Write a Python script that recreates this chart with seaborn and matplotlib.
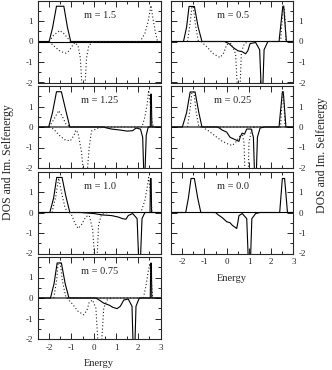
import matplotlib
matplotlib.use("Agg")
import matplotlib.pyplot as plt
import seaborn as sns
import pandas as pd
from matplotlib.ticker import MultipleLocator

sns.set_style("ticks")
plt.rcParams["font.family"] = ["Liberation Serif", "DejaVu Serif"]
plt.rcParams["axes.unicode_minus"] = False

# panel labels
m_values = ["1.5", "1.25", "1.0", "0.75", "0.5", "0.25", "0.0"]

# solid: DOS (positive part), as (energy, value) pairs
m150_dos = [(-2.5, 0), (-2.0, 0), (-1.85, 0.65), (-1.67, 1.72), (-1.34, 1.72), (-1.18, 0.7), (-1.03, 0), (3.0, 0)]
m125_dos = [(-2.5, 0), (-2.02, 0), (-1.85, 0.7), (-1.67, 1.72), (-1.45, 1.72), (-1.25, 0.8), (-1.07, 0),
            (2.54, 0), (2.56, 1.6), (2.59, 1.6), (2.61, 0), (3.0, 0)]
m100_dos = [(-2.5, 0), (-1.97, 0), (-1.8, 0.7), (-1.66, 1.71), (-1.42, 1.71), (-1.25, 0.8), (-1.07, 0),
            (2.53, 0), (2.55, 1.66), (2.58, 1.66), (2.6, 0), (3.0, 0)]
m075_dos = [(-2.5, 0), (-1.94, 0), (-1.78, 0.7), (-1.64, 1.71), (-1.45, 1.71), (-1.28, 0.7), (-1.11, 0),
            (2.54, 0), (2.56, 1.7), (2.59, 1.7), (2.61, 0), (3.0, 0)]
m050_dos = [(-2.5, 0), (-1.94, 0), (-1.8, 0.7), (-1.69, 1.71), (-1.45, 1.71), (-1.28, 0.7), (-1.11, 0),
            (2.35, 0), (2.52, 1.72), (2.56, 1.72), (2.68, 0), (3.0, 0)]
m025_dos = [(-2.5, 0), (-1.99, 0), (-1.8, 0.7), (-1.64, 1.71), (-1.42, 1.71), (-1.25, 0.7), (-1.11, 0),
            (2.35, 0), (2.5, 1.72), (2.54, 1.72), (2.66, 0), (3.0, 0)]
m000_dos = [(-2.5, 0), (-1.84, 0), (-1.72, 0.7), (-1.6, 1.66), (-1.45, 1.66), (-1.3, 0.7), (-1.16, 0),
            (2.38, 0), (2.5, 1.66), (2.6, 1.66), (2.73, 0), (3.0, 0)]

# solid: Im. selfenergy (negative part)
m150_sig = [(-2.5, 0), (3.0, 0)]
m125_sig = [(-2.5, 0), (0.4, 0), (0.8, -0.1), (1.2, -0.15), (1.5, -0.2), (1.75, -0.18), (1.9, -0.05),
            (2.1, -0.1), (2.2, -0.5), (2.25, -2.3), (2.3, -2.3), (2.36, -0.4), (2.45, 0), (3.0, 0)]
m100_sig = [(-2.5, 0), (-0.6, 0), (0.0, -0.05), (0.4, -0.12), (0.8, -0.15), (1.1, -0.22), (1.3, -0.3),
            (1.45, -0.33), (1.55, -0.15), (1.75, -0.05), (1.95, -0.3), (2.02, -2.3), (2.1, -2.3),
            (2.17, -0.3), (2.3, 0), (3.0, 0)]
m075_sig = [(-2.5, 0), (0.1, 0), (0.25, -0.1), (0.45, -0.25), (0.7, -0.35), (0.85, -0.45), (1.05, -0.52),
            (1.2, -0.4), (1.35, -0.1), (1.55, -0.05), (1.72, -0.4), (1.77, -2.3), (1.85, -2.3),
            (1.9, -0.4), (2.05, 0), (3.0, 0)]
m050_sig = [(-2.5, 0), (-0.1, 0), (0.1, -0.1), (0.3, -0.3), (0.5, -0.45), (0.7, -0.5), (0.85, -0.6),
            (0.95, -0.45), (1.05, -0.1), (1.3, -0.05), (1.48, -0.4), (1.55, -2.3), (1.62, -2.3),
            (1.68, -0.4), (1.85, 0), (3.0, 0)]
m025_sig = [(-2.5, 0), (-0.4, 0), (-0.2, -0.15), (0.0, -0.25), (0.15, -0.5), (0.35, -0.6), (0.55, -0.7),
            (0.62, -0.45), (0.7, -0.3), (0.8, -0.35), (0.9, -0.1), (1.1, -0.1), (1.2, -0.5),
            (1.25, -2.3), (1.33, -2.3), (1.38, -0.5), (1.5, -0.05), (1.7, 0), (3.0, 0)]
m000_sig = [(-2.5, 0), (-0.5, 0), (-0.4, -0.1), (-0.2, -0.25), (0.0, -0.45), (0.15, -0.5), (0.25, -0.62),
            (0.35, -0.7), (0.45, -0.78), (0.5, -0.5), (0.55, -0.15), (0.7, -0.05), (0.9, -0.3),
            (0.97, -2.3), (1.07, -2.3), (1.13, -0.3), (1.3, -0.05), (1.5, 0), (3.0, 0)]

# dotted: DOS of the other channel
m150_dos2 = [(-2.0, 0), (-1.8, 0.3), (-1.52, 0.54), (-1.3, 0.35), (-1.05, 0), (2.09, 0), (2.3, 0.4),
             (2.45, 1.0), (2.57, 1.76), (2.68, 1.0), (2.78, 0.4), (2.87, 0)]
m125_dos2 = [(-2.0, 0), (-1.8, 0.35), (-1.57, 0.8), (-1.4, 0.5), (-1.25, 0.15), (-1.05, 0), (2.17, 0),
             (2.3, 0.5), (2.4, 1.1), (2.47, 1.79), (2.55, 1.0), (2.62, 0.3), (2.68, 0)]
m100_dos2 = [(-1.87, 0), (-1.7, 0.8), (-1.57, 1.68), (-1.45, 1.0), (-1.3, 0.3), (-1.19, 0), (2.12, 0),
             (2.3, 0.6), (2.4, 1.2), (2.47, 1.71), (2.53, 1.2), (2.62, 0)]
m075_dos2 = [(-1.79, 0), (-1.66, 0.9), (-1.6, 1.7), (-1.5, 1.7), (-1.4, 0.8), (-1.24, 0), (2.23, 0),
             (2.35, 0.6), (2.45, 1.3), (2.52, 1.68), (2.58, 1.0), (2.65, 0)]
m050_dos2 = [(-1.76, 0), (-1.63, 1.0), (-1.56, 1.7), (-1.5, 1.7), (-1.4, 0.8), (-1.27, 0), (2.42, 0),
             (2.52, 1.5), (2.55, 1.75), (2.6, 1.5), (2.66, 0)]
m025_dos2 = [(-1.76, 0), (-1.63, 1.0), (-1.56, 1.7), (-1.47, 1.7), (-1.38, 0.8), (-1.25, 0), (2.42, 0),
             (2.5, 1.6), (2.55, 1.7), (2.62, 0)]
m000_dos2 = []

# dotted: Im. selfenergy of the other channel
m150_sig2 = [(-2.0, 0), (-1.75, -0.25), (-1.5, -0.48), (-1.25, -0.57), (-1.1, -0.45), (-0.95, -0.2),
             (-0.85, -0.05), (-0.7, -0.2), (-0.6, -0.8), (-0.52, -2.3), (-0.4, -2.3), (-0.32, -0.8),
             (-0.22, -0.2), (-0.05, -0.03), (0.3, 0)]
m125_sig2 = [(-2.0, 0), (-1.8, -0.1), (-1.55, -0.4), (-1.3, -0.62), (-1.05, -0.68), (-0.88, -0.4),
             (-0.8, -0.15), (-0.7, -0.3), (-0.55, -1.2), (-0.45, -2.3), (-0.3, -2.3), (-0.2, -1.0),
             (-0.1, -0.2), (0.2, -0.05), (0.5, 0)]
m100_sig2 = [(-1.1, 0), (-1.0, -0.1), (-0.85, -0.5), (-0.7, -0.78), (-0.55, -0.6), (-0.35, -0.2),
             (-0.2, -0.15), (-0.05, -0.8), (0.05, -2.3), (0.15, -2.3), (0.22, -0.6), (0.35, -0.1), (0.6, 0)]
m075_sig2 = [(-1.2, 0), (-0.95, -0.3), (-0.7, -0.65), (-0.45, -0.82), (-0.3, -0.6), (-0.2, -0.2),
             (-0.05, -0.1), (0.1, -0.5), (0.2, -2.3), (0.35, -2.3), (0.45, -0.5), (0.6, -0.1), (0.8, 0)]
m050_sig2 = [(-1.15, 0), (-0.9, -0.25), (-0.6, -0.6), (-0.3, -0.78), (-0.15, -0.6), (0.0, -0.15),
             (0.2, -0.1), (0.4, -0.6), (0.48, -2.3), (0.6, -2.3), (0.66, -0.5), (0.8, -0.1), (1.0, 0)]
m025_sig2 = [(-1.1, 0), (-0.8, -0.2), (-0.5, -0.45), (-0.2, -0.7), (0.1, -0.85), (0.25, -0.9),
             (0.4, -0.75), (0.55, -0.5), (0.7, -0.3), (0.78, -0.8), (0.82, -2.3), (0.97, -2.3),
             (1.0, -0.8), (1.1, -0.2), (1.25, 0)]
m000_sig2 = []

solid_curves = [(m150_dos, m150_sig), (m125_dos, m125_sig), (m100_dos, m100_sig), (m075_dos, m075_sig),
                (m050_dos, m050_sig), (m025_dos, m025_sig), (m000_dos, m000_sig)]
dotted_curves = [(m150_dos2, m150_sig2), (m125_dos2, m125_sig2), (m100_dos2, m100_sig2),
                 (m075_dos2, m075_sig2), (m050_dos2, m050_sig2), (m025_dos2, m025_sig2),
                 (m000_dos2, m000_sig2)]

W, H = 332, 370
fig = plt.figure(figsize=(W / 100, H / 100), dpi=100)

# column / row placement in pixels
col_left = [38, 171]
row_top = [0.5, 86, 171.5, 257]
ax_w, ax_h = 122.5, 82

# panel order: left column top to bottom, then right column
slots = [(0, 0), (0, 1), (0, 2), (0, 3), (1, 0), (1, 1), (1, 2)]
bottom_of_col = {0: 3, 1: 2}

for i, (col, row) in enumerate(slots):
    ax = fig.add_axes([col_left[col] / W, 1 - (row_top[row] + ax_h) / H, ax_w / W, ax_h / H])
    for part in solid_curves[i]:
        if part:
            d = pd.DataFrame(part, columns=["E", "v"])
            sns.lineplot(data=d, x="E", y="v", ax=ax, color="black", lw=0.8,
                         sort=False, estimator=None)
    for part in dotted_curves[i]:
        if part:
            d = pd.DataFrame(part, columns=["E", "v"])
            sns.lineplot(data=d, x="E", y="v", ax=ax, color="#222222", lw=0.8,
                         linestyle=(0, (1, 2)), sort=False, estimator=None)
    ax.set_xlim(-2.5, 3)
    ax.set_ylim(-2, 2)
    ax.set_xticks([-2, -1, 0, 1, 2, 3])
    ax.set_yticks([-2, -1, 0, 1])
    ax.xaxis.set_minor_locator(MultipleLocator(0.5))
    ax.yaxis.set_minor_locator(MultipleLocator(0.5))
    ax.tick_params(which="both", direction="in", top=True, right=True, bottom=True, left=True,
                   width=0.7, labelsize=6.5, pad=3.5)
    ax.tick_params(which="major", length=4)
    ax.tick_params(which="minor", length=2)
    for s in ax.spines.values():
        s.set_linewidth(0.8)
    ax.set_ylabel("")
    ax.set_xlabel("")
    if col == 1:
        ax.tick_params(labelleft=False, labelright=True)
    if row != bottom_of_col[col]:
        ax.tick_params(labelbottom=False)
    else:
        ax.set_xlabel("Energy", fontsize=7.5, labelpad=5.5)
    ax.text(0.27, 1.28, "m = " + m_values[i], ha="center", va="center", fontsize=7.5)

fig.text(8 / W, 1 - 162 / H, "DOS and Im. Selfenergy", rotation=90, ha="center", va="center", fontsize=8.5)
fig.text(322 / W, 1 - 155 / H, "DOS and Im. Selfenergy", rotation=90, ha="center", va="center", fontsize=8.5)

fig.savefig("out.png", dpi=100)
